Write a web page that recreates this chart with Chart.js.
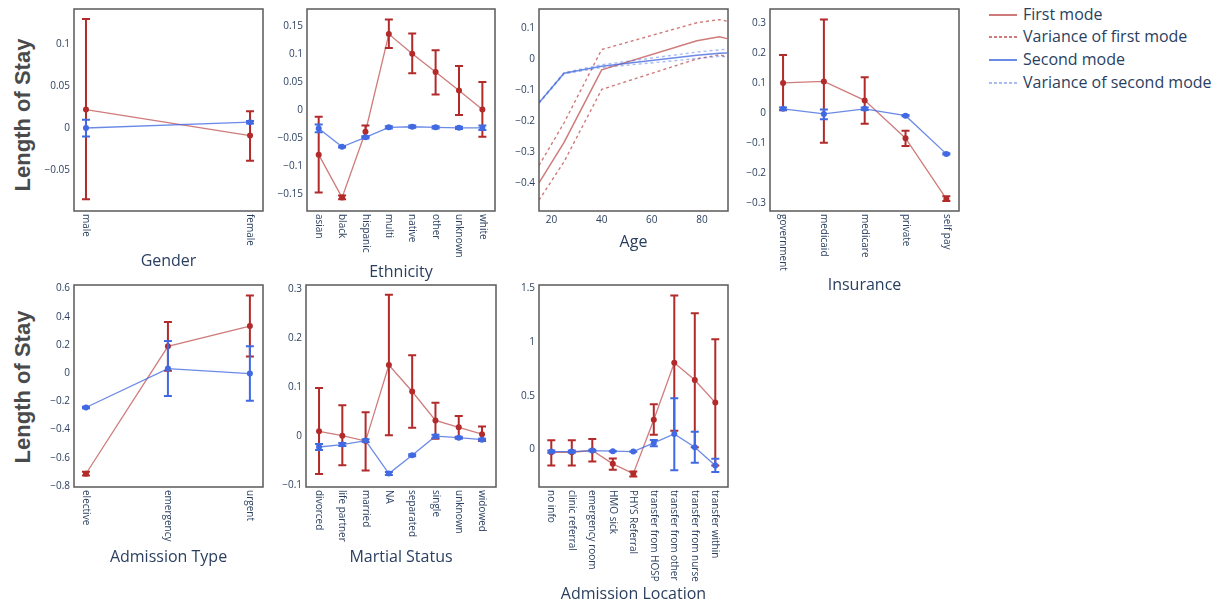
<!DOCTYPE html>
<html>
<head>
<meta charset="utf-8">
<script src="https://cdn.jsdelivr.net/npm/chart.js@4.4.1/dist/chart.umd.min.js"></script>
<style>
  body { margin: 0; background: #fff; width: 1219px; height: 608px; overflow: hidden; position: relative; font-family: "Open Sans", sans-serif; }
  canvas { position: absolute; }
  .ylab { position: absolute; transform: translate(-50%, -50%) rotate(-90deg); white-space: nowrap;
          font: bold 22px "Liberation Sans", Arial, sans-serif; color: #4a4a4a; }
  #legend { position: absolute; left: 989px; top: 0; color: #2a3f5f; font-size: 16px; }
  .item { position: absolute; left: 0; height: 22px; white-space: nowrap; }
  .item svg { position: absolute; left: 0; top: 10px; }
  .item span { position: absolute; left: 34px; top: 0; line-height: 22px; }
</style>
</head>
<body>
<div class="ylab" style="left:23px; top:115px;">Length of Stay</div>
<div class="ylab" style="left:23px; top:387px;">Length of Stay</div>
<div id="legend"></div>

<script>
// ---- data ----
var genderCats = ['male', 'female'];
var genderFirst = [0.022, -0.009];
var genderFirstHi = [0.130, 0.020];
var genderFirstLo = [-0.085, -0.039];
var genderSecond = [0.000, 0.007];
var genderSecondHi = [0.010, 0.0085];
var genderSecondLo = [-0.010, 0.0055];

var ethCats = ['asian', 'black', 'hispanic', 'multi', 'native', 'other', 'unknown', 'white'];
var ethFirst = [-0.080, -0.157, -0.039, 0.136, 0.101, 0.068, 0.035, 0.001];
var ethFirstHi = [-0.012, -0.153, -0.028, 0.162, 0.137, 0.107, 0.079, 0.050];
var ethFirstLo = [-0.148, -0.160, -0.048, 0.111, 0.066, 0.028, -0.009, -0.048];
var ethSecond = [-0.033, -0.066, -0.049, -0.031, -0.030, -0.031, -0.032, -0.032];
var ethSecondHi = [-0.026, -0.065, -0.047, -0.029, -0.028, -0.029, -0.030, -0.028];
var ethSecondLo = [-0.040, -0.067, -0.051, -0.033, -0.032, -0.033, -0.034, -0.036];

var ages = [15, 25, 40, 78, 87, 90];
var ageFirst = [-0.398, -0.268, -0.035, 0.058, 0.071, 0.065];
var ageFirstUp = [-0.342, -0.205, 0.030, 0.116, 0.126, 0.121];
var ageFirstLow = [-0.453, -0.330, -0.098, 0.000, 0.013, 0.007];
var ageSecond = [-0.141, -0.046, -0.024, 0.012, 0.018, 0.019];
var ageSecondUp = [-0.139, -0.044, -0.019, 0.022, 0.029, 0.031];
var ageSecondLow = [-0.143, -0.048, -0.028, 0.001, 0.008, 0.007];

var insCats = ['government', 'medicaid', 'medicare', 'private', 'self pay'];
var insFirst = [0.100, 0.105, 0.042, -0.084, -0.286];
var insFirstHi = [0.193, 0.311, 0.119, -0.059, -0.277];
var insFirstLo = [0.009, -0.099, -0.036, -0.110, -0.293];
var insSecond = [0.014, -0.003, 0.014, -0.009, -0.136];
var insSecondHi = [0.018, 0.012, 0.018, -0.007, -0.134];
var insSecondLo = [0.010, -0.021, 0.010, -0.011, -0.138];

var admCats = ['elective', 'emergency', 'urgent'];
var admFirst = [-0.714, 0.190, 0.334];
var admFirstHi = [-0.700, 0.362, 0.550];
var admFirstLo = [-0.726, 0.016, 0.117];
var admSecond = [-0.244, 0.032, -0.003];
var admSecondHi = [-0.238, 0.227, 0.190];
var admSecondLo = [-0.250, -0.162, -0.197];

var marCats = ['divorced', 'life partner', 'married', 'NA', 'separated', 'single', 'unknown', 'widowed'];
var marFirst = [0.010, 0.001, -0.010, 0.145, 0.091, 0.032, 0.018, 0.004];
var marFirstHi = [0.098, 0.063, 0.049, 0.288, 0.165, 0.068, 0.041, 0.020];
var marFirstLo = [-0.077, -0.059, -0.070, 0.002, 0.017, -0.005, -0.003, -0.010];
var marSecond = [-0.022, -0.017, -0.009, -0.076, -0.039, 0.000, -0.003, -0.007];
var marSecondHi = [-0.016, -0.014, -0.006, -0.073, -0.037, 0.003, -0.001, -0.005];
var marSecondLo = [-0.028, -0.020, -0.012, -0.079, -0.041, -0.003, -0.005, -0.009];

var locCats = ['no info', 'clinic referral', 'emergency room', 'HMO sick', 'PHYS Referral',
               'transfer from HOSP', 'transfer from other', 'transfer from nurse', 'transfer within'];
var locFirst = [-0.025, -0.025, -0.009, -0.133, -0.225, 0.278, 0.809, 0.648, 0.438];
var locFirstHi = [0.086, 0.086, 0.099, -0.083, -0.204, 0.423, 1.435, 1.271, 1.028];
var locFirstLo = [-0.148, -0.148, -0.111, -0.188, -0.250, 0.139, 0.176, 0.022, -0.148];
var locSecond = [-0.019, -0.019, -0.009, -0.015, -0.019, 0.062, 0.145, 0.022, -0.148];
var locSecondHi = [-0.009, -0.009, -0.002, -0.013, -0.017, 0.090, 0.478, 0.167, -0.086];
var locSecondLo = [-0.029, -0.029, -0.016, -0.017, -0.021, 0.031, -0.194, -0.123, -0.210];

var legendNames = ['First mode', 'Variance of first mode', 'Second mode', 'Variance of second mode'];

// ---- styles ----
var RED = '#b22a2a', RED_LINE = 'rgba(178,42,42,0.62)';
var BLUE = '#4169e1', BLUE_LINE = 'rgba(65,105,225,0.78)', BLUE_DASH = 'rgba(65,105,225,0.45)';
var TXT = '#2a3f5f';

function fmt(v) {
    var s = String(Number(v.toFixed(4)));
    return s.replace('-', '\u2212');
}

function pts(xs, ys) {
    return ys.map(function (y, i) { return { x: xs[i], y: y }; });
}
function idx(arr) { return arr.map(function (_, i) { return i; }); }

// error bars drawn under each dataset, through the chart scales
var errorBars = {
    id: 'errorBars',
    beforeDatasetDraw: function (chart, args) {
        var ds = chart.data.datasets[args.index];
        if (!ds.errHi) return;
        var xs = chart.scales.x, ys = chart.scales.y, ctx = chart.ctx;
        ctx.save();
        ctx.strokeStyle = ds.errColor;
        ctx.lineWidth = 2;
        ds.data.forEach(function (p, i) {
            var x = xs.getPixelForValue(p.x);
            var y1 = ys.getPixelForValue(ds.errHi[i]);
            var y2 = ys.getPixelForValue(ds.errLo[i]);
            ctx.beginPath();
            ctx.moveTo(x, y1); ctx.lineTo(x, y2);
            ctx.moveTo(x - 4, y1); ctx.lineTo(x + 4, y1);
            ctx.moveTo(x - 4, y2); ctx.lineTo(x + 4, y2);
            ctx.stroke();
        });
        ctx.restore();
    }
};

// frame box + vertical category labels
var frameAndLabels = {
    id: 'frameAndLabels',
    afterDraw: function (chart) {
        var a = chart.chartArea, ctx = chart.ctx;
        ctx.save();
        ctx.strokeStyle = '#5a5a5a';
        ctx.lineWidth = 1.5;
        ctx.strokeRect(a.left, a.top, a.right - a.left, a.bottom - a.top);
        var cats = chart.options.plugins.frameAndLabels.cats;
        if (cats) {
            ctx.fillStyle = TXT;
            ctx.font = '10px "Open Sans"';
            ctx.textAlign = 'left';
            ctx.textBaseline = 'middle';
            cats.forEach(function (c, i) {
                var x = chart.scales.x.getPixelForValue(i);
                ctx.save();
                ctx.translate(x, a.bottom + 3);
                ctx.rotate(Math.PI / 2);
                ctx.fillText(c, 0, 0);
                ctx.restore();
            });
        }
        ctx.restore();
    }
};

function errSet(label, xs, ys, hi, lo, dark, line, order) {
    return {
        label: label, data: pts(xs, ys), errHi: hi, errLo: lo, errColor: dark,
        borderColor: line, borderWidth: 1.3, pointRadius: 3, pointBackgroundColor: dark,
        pointBorderWidth: 0, order: order, tension: 0
    };
}

function makePanel(p) {
    var L = p.box[0], T = p.box[1], R = p.box[2], B = p.box[3];
    var yW = 60, padTop = 8, padRight = 8;
    var xH = Math.round(p.titleY + 9.6 - B);
    var cv = document.createElement('canvas');
    cv.width = (R - L) + yW + padRight;
    cv.height = (B - T) + padTop + xH;
    cv.style.left = (L - yW) + 'px';
    cv.style.top = (T - padTop) + 'px';
    cv.style.width = cv.width + 'px';
    cv.style.height = cv.height + 'px';
    document.body.appendChild(cv);

    var datasets;
    if (p.cats) {
        var xi = idx(p.cats);
        datasets = [
            errSet('First mode', xi, p.first, p.firstHi, p.firstLo, RED, RED_LINE, 2),
            errSet('Second mode', xi, p.second, p.secondHi, p.secondLo, BLUE, BLUE_LINE, 1)
        ];
    } else {
        datasets = p.lines;
    }

    new Chart(cv, {
        type: 'line',
        data: { datasets: datasets },
        options: {
            responsive: false,
            animation: false,
            devicePixelRatio: 1,
            layout: { autoPadding: false, padding: { top: padTop, right: padRight, left: 0, bottom: 0 } },
            plugins: {
                legend: { display: false },
                tooltip: { enabled: false },
                frameAndLabels: { cats: p.cats || null }
            },
            scales: {
                x: {
                    type: 'linear', min: p.xMin, max: p.xMax,
                    grid: { display: false, drawTicks: false }, border: { display: false },
                    ticks: {
                        display: !p.cats, padding: 3, color: TXT, font: { family: 'Open Sans', size: 10 },
                        callback: function (v) { return fmt(v); }
                    },
                    afterBuildTicks: function (s) {
                        s.ticks = (p.xTicks || idx(p.cats)).map(function (v) { return { value: v }; });
                    },
                    afterFit: function (s) { s.height = xH; },
                    title: {
                        display: true, text: p.title, color: TXT, padding: 0,
                        font: { family: 'Open Sans', size: 16, lineHeight: 1.2 }
                    }
                },
                y: {
                    type: 'linear', min: p.yMin, max: p.yMax,
                    grid: { display: false, drawTicks: false }, border: { display: false },
                    ticks: {
                        padding: 4, color: TXT, font: { family: 'Open Sans', size: 10 },
                        callback: function (v) { return fmt(v); }
                    },
                    afterBuildTicks: function (s) {
                        s.ticks = p.yTicks.map(function (v) { return { value: v }; });
                    },
                    afterFit: function (s) { s.width = yW; }
                }
            }
        },
        plugins: [errorBars, frameAndLabels]
    });
}

function ageLine(ys, color, dash, order) {
    return {
        data: pts(ages, ys), borderColor: color, borderWidth: dash ? 1.4 : 1.5,
        borderDash: dash ? [3, 3] : [], pointRadius: 0, order: order, tension: 0
    };
}

makePanel({ box: [74, 7, 263, 211], titleY: 261, title: 'Gender',
    cats: genderCats, first: genderFirst, firstHi: genderFirstHi, firstLo: genderFirstLo,
    second: genderSecond, secondHi: genderSecondHi, secondLo: genderSecondLo,
    xMin: -0.073, xMax: 1.079, yMin: -0.099, yMax: 0.142, yTicks: [-0.05, 0, 0.05, 0.1] });

makePanel({ box: [307, 7, 495, 211], titleY: 272, title: 'Ethnicity',
    cats: ethCats, first: ethFirst, firstHi: ethFirstHi, firstLo: ethFirstLo,
    second: ethSecond, secondHi: ethSecondHi, secondLo: ethSecondLo,
    xMin: -0.5, xMax: 7.54, yMin: -0.181, yMax: 0.181,
    yTicks: [-0.15, -0.1, -0.05, 0, 0.05, 0.1, 0.15] });

makePanel({ box: [539, 7, 728, 211], titleY: 242, title: 'Age',
    lines: [
        ageLine(ageFirstUp, RED_LINE, true, 4),
        ageLine(ageFirstLow, RED_LINE, true, 4),
        ageLine(ageFirst, RED_LINE, false, 3),
        ageLine(ageSecondUp, BLUE_DASH, true, 2),
        ageLine(ageSecondLow, BLUE_DASH, true, 2),
        ageLine(ageSecond, BLUE_LINE, false, 1)
    ],
    xTicks: [20, 40, 60, 80],
    xMin: 15, xMax: 90.4, yMin: -0.488, yMax: 0.160,
    yTicks: [-0.4, -0.3, -0.2, -0.1, 0, 0.1] });

makePanel({ box: [770, 7, 959, 211], titleY: 285, title: 'Insurance',
    cats: insCats, first: insFirst, firstHi: insFirstHi, firstLo: insFirstLo,
    second: insSecond, secondHi: insSecondHi, secondLo: insSecondLo,
    xMin: -0.32, xMax: 4.31, yMin: -0.326, yMax: 0.346,
    yTicks: [-0.3, -0.2, -0.1, 0, 0.1, 0.2, 0.3] });

makePanel({ box: [74, 283, 263, 487], titleY: 557, title: 'Admission Type',
    cats: admCats, first: admFirst, firstHi: admFirstHi, firstLo: admFirstLo,
    second: admSecond, secondHi: admSecondHi, secondLo: admSecondLo,
    xMin: -0.146, xMax: 2.16, yMin: -0.808, yMax: 0.625,
    yTicks: [-0.8, -0.6, -0.4, -0.2, 0, 0.2, 0.4, 0.6] });

makePanel({ box: [306, 283, 496, 487], titleY: 557, title: 'Martial Status',
    cats: marCats, first: marFirst, firstHi: marFirstHi, firstLo: marFirstLo,
    second: marSecond, secondHi: marSecondHi, secondLo: marSecondLo,
    xMin: -0.56, xMax: 7.6, yMin: -0.1035, yMax: 0.308,
    yTicks: [-0.1, 0, 0.1, 0.2, 0.3] });

makePanel({ box: [539, 283, 728, 487], titleY: 594, title: 'Admission Location',
    cats: locCats, first: locFirst, firstHi: locFirstHi, firstLo: locFirstLo,
    second: locSecond, secondHi: locSecondHi, secondLo: locSecondLo,
    xMin: -0.6, xMax: 8.62, yMin: -0.349, yMax: 1.534,
    yTicks: [0, 0.5, 1, 1.5] });

// legend
var legendStyles = [
    { color: RED_LINE, dash: '' },
    { color: RED_LINE, dash: '3,2' },
    { color: BLUE_LINE, dash: '' },
    { color: BLUE_DASH, dash: '3,2' }
];
var legendRows = [3, 25, 48, 71];
var legendEl = document.getElementById('legend');
legendNames.forEach(function (name, i) {
    var st = legendStyles[i];
    var div = document.createElement('div');
    div.className = 'item';
    div.style.top = legendRows[i] + 'px';
    div.innerHTML = '<svg width="30" height="4"><line x1="0" y1="2" x2="28" y2="2" stroke="' + st.color +
        '" stroke-width="2"' + (st.dash ? ' stroke-dasharray="' + st.dash + '"' : '') + '/></svg><span>' + name + '</span>';
    legendEl.appendChild(div);
});
</script>
</body>
</html>
